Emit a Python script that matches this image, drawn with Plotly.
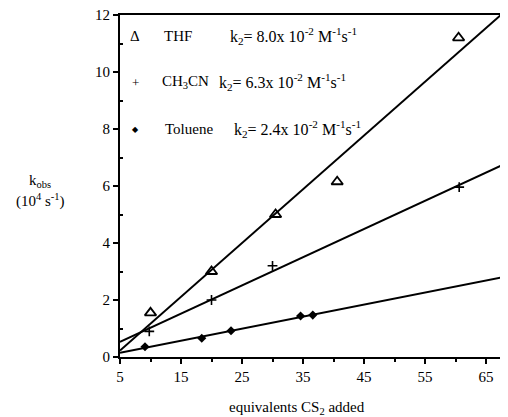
import numpy as np
import plotly.graph_objects as go

# Data
thf_x = [10, 20, 30.5, 40.6, 60.5]
thf_y = [1.55, 3.0, 5.0, 6.15, 11.2]
mecn_x = [9.8, 20, 30, 60.6]
mecn_y = [0.9, 2.0, 3.2, 5.96]
tol_x = [9.1, 18.4, 23.2, 34.6, 36.6]
tol_y = [0.36, 0.66, 0.92, 1.44, 1.47]

x_ticks = [5, 15, 25, 35, 45, 55, 65]
y_ticks = [0, 2, 4, 6, 8, 10, 12]
fit_x = [5, 72]

FONT = "Liberation Serif"

fig = go.Figure()

def add_series(xs, ys, symbol, size, lw):
    slope, icpt = np.polyfit(xs, ys, 1)
    fx = np.array(fit_x, dtype=float)
    fig.add_trace(go.Scatter(x=fx, y=slope * fx + icpt, mode="lines",
                             line=dict(color="black", width=2), showlegend=False,
                             hoverinfo="skip"))
    fig.add_trace(go.Scatter(x=xs, y=ys, mode="markers", showlegend=False,
                             marker=dict(symbol=symbol, size=size, color="black",
                                         line=dict(color="black", width=lw)),
                             cliponaxis=False))

add_series(thf_x, thf_y, "triangle-up-open", 10, 1.8)
add_series(mecn_x, mecn_y, "cross-thin-open", 7, 1.6)
add_series(tol_x, tol_y, "diamond", 7, 0)

fig.update_xaxes(range=[5, 68.6], tickvals=x_ticks, ticks="outside", ticklen=5,
                 tickwidth=1.5, tickcolor="black", showline=True, linecolor="black",
                 linewidth=2, mirror=True, showgrid=False, zeroline=False,
                 minor=dict(tickvals=[10, 20, 30, 40, 50, 60], ticks="outside",
                            ticklen=3, tickcolor="black", tickwidth=1.5),
                 tickfont=dict(family=FONT, size=15, color="black"))
fig.update_yaxes(range=[0, 12], tickvals=y_ticks, ticks="outside", ticklen=5,
                 tickwidth=1.5, tickcolor="black", showline=True, linecolor="black",
                 linewidth=2, showgrid=False, zeroline=False,
                 ticklabeloverflow="allow",
                 minor=dict(tickvals=[1, 3, 5, 7, 9, 11], ticks="inside",
                            ticklen=3, tickcolor="black", tickwidth=1.5),
                 tickfont=dict(family=FONT, size=15, color="black"))

ann = []
def txt(x, y, s, size=15, xanchor="left"):
    ann.append(dict(x=x, y=y, xref="paper", yref="paper", text=s, showarrow=False,
                    xanchor=xanchor, yanchor="middle",
                    font=dict(family=FONT, size=size, color="black")))

rows = [
    (0.940, "Δ", 15, 0.108, "THF", 0.278, "k<sub>2</sub>= 8.0x 10<sup>-2</sup> M<sup>-1</sup>s<sup>-1</sup>"),
    (0.803, "+", 13, 0.103, "CH<sub>3</sub>CN", 0.250, "k<sub>2</sub>= 6.3x 10<sup>-2</sup> M<sup>-1</sup>s<sup>-1</sup>"),
    (0.666, "◆", 8, 0.111, "Toluene", 0.289, "k<sub>2</sub>= 2.4x 10<sup>-2</sup> M<sup>-1</sup>s<sup>-1</sup>"),
]
for y, sym, ssz, nx, name, kx, k in rows:
    txt(0.0387, y, sym, size=ssz, xanchor="center")
    txt(nx, y, name)
    txt(kx, y, k, size=16)

txt(-0.206, 0.514, "k<sub>obs</sub>", xanchor="center")
txt(-0.206, 0.458, "(10<sup>4</sup> s<sup>-1</sup>)", xanchor="center")
txt(0.456, -0.149, "equivalents CS<sub>2</sub> added", xanchor="center")

# the page adds an 8 px body margin, so the figure is drawn offset by (8, 8)
fig.update_layout(width=500, height=409, margin=dict(l=112, r=0, t=7, b=60),
                  paper_bgcolor="white", plot_bgcolor="white", annotations=ann,
                  showlegend=False)
fig.write_html("out.html")
